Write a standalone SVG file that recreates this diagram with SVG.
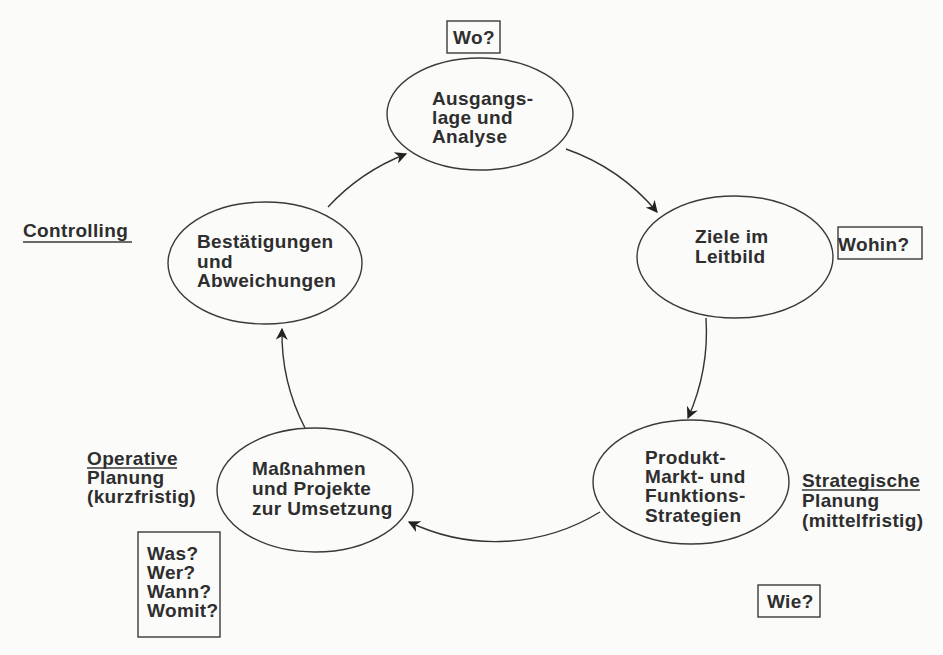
<svg xmlns="http://www.w3.org/2000/svg" width="943" height="655" viewBox="0 0 943 655">
<defs>
<style>
text{font-family:"Liberation Sans",Arial,sans-serif;font-weight:bold;font-size:19px;letter-spacing:0.35px;fill:#2e2e2e}
.node ellipse{fill:none;stroke:#3a3a3a;stroke-width:1.4}
.box{fill:none;stroke:#3a3a3a;stroke-width:1.4}
.ul{stroke:#3a3a3a;stroke-width:1.6}
.conn path{fill:none;stroke:#333;stroke-width:1.4;marker-end:url(#ah)}
</style>
<marker id="ah" viewBox="0 0 10 10" refX="9" refY="5" markerWidth="12" markerHeight="12" markerUnits="userSpaceOnUse" orient="auto">
<path d="M0,0 L10,5 L0,10 L3,5 Z" fill="#222"/>
</marker>
</defs>
<rect width="943" height="655" fill="#fbfbfa"/>
<g id="connectors" class="conn">
<path d="M328,207 A208,208 0 0 1 406,154"/>
<path d="M566,149 A208,208 0 0 1 657,212"/>
<path d="M706,318 A212,212 0 0 1 688,418"/>
<path d="M600,512 A200,200 0 0 1 409,522"/>
<path d="M305,428 A206,206 0 0 1 282,329"/>
</g>
<g id="n1" class="node">
<ellipse cx="480" cy="114" rx="93" ry="56"/>
<text><tspan x="432" y="105">Ausgangs-</tspan><tspan x="432" y="124">lage und</tspan><tspan x="432" y="143">Analyse</tspan></text>
</g>
<g id="n2" class="node">
<ellipse cx="735" cy="257" rx="98" ry="61"/>
<text><tspan x="695" y="243">Ziele im</tspan><tspan x="695" y="263">Leitbild</tspan></text>
</g>
<g id="n3" class="node">
<ellipse cx="691" cy="482" rx="98" ry="62"/>
<text><tspan x="645" y="464">Produkt-</tspan><tspan x="645" y="483">Markt- und</tspan><tspan x="645" y="502">Funktions-</tspan><tspan x="645" y="522">Strategien</tspan></text>
</g>
<g id="n4" class="node">
<ellipse cx="315" cy="490" rx="98" ry="62"/>
<text><tspan x="252" y="475">Maßnahmen</tspan><tspan x="252" y="495">und Projekte</tspan><tspan x="252" y="515">zur Umsetzung</tspan></text>
</g>
<g id="n5" class="node">
<ellipse cx="265" cy="263" rx="97" ry="61"/>
<text><tspan x="197" y="248">Bestätigungen</tspan><tspan x="197" y="268">und</tspan><tspan x="197" y="287">Abweichungen</tspan></text>
</g>
<g id="wo">
<rect class="box" x="447" y="21" width="53" height="32"/>
<text x="453" y="44">Wo?</text>
</g>
<g id="wohin">
<rect class="box" x="838" y="227" width="84" height="32"/>
<text x="838" y="251" letter-spacing="1.5">Wohin?</text>
</g>
<g id="wie">
<rect class="box" x="758" y="585" width="62" height="32"/>
<text x="767" y="608">Wie?</text>
</g>
<g id="was">
<rect class="box" x="138" y="532" width="82" height="105"/>
<text><tspan x="147" y="560">Was?</tspan><tspan x="147" y="579">Wer?</tspan><tspan x="147" y="598">Wann?</tspan><tspan x="147" y="617">Womit?</tspan></text>
</g>
<g id="controlling">
<text x="23" y="237">Controlling</text>
<line class="ul" x1="23" y1="242" x2="132" y2="242"/>
</g>
<g id="operative">
<text><tspan x="87" y="465">Operative</tspan><tspan x="87" y="484">Planung</tspan><tspan x="87" y="503">(kurzfristig)</tspan></text>
<line class="ul" x1="87" y1="468" x2="177" y2="468"/>
</g>
<g id="strategische">
<text><tspan x="802" y="487">Strategische</tspan><tspan x="802" y="507">Planung</tspan><tspan x="802" y="527">(mittelfristig)</tspan></text>
<line class="ul" x1="802" y1="490" x2="920" y2="490"/>
</g>
</svg>
